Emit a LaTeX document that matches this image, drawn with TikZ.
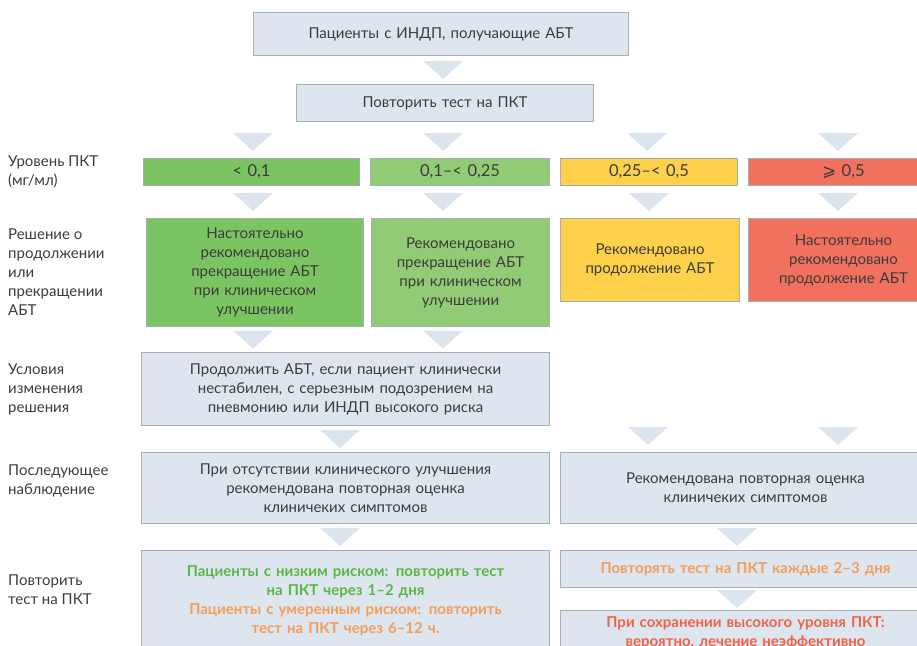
\documentclass[tikz,border=0pt]{standalone}
\usepackage{fontspec}
\setmainfont{Lato}
\newfontfamily\symfont{DejaVu Sans}
\usetikzlibrary{positioning, calc}
\definecolor{boxfill}{HTML}{DDE6EF}
\definecolor{boxline}{HTML}{A9AEB3}
\definecolor{trifill}{HTML}{DCE5EE}
\definecolor{txtgray}{HTML}{3C3C3C}
\definecolor{greenA}{HTML}{7BC462}
\definecolor{greenB}{HTML}{92CB76}
\definecolor{yellowC}{HTML}{FDD24A}
\definecolor{redD}{HTML}{F1705E}
\definecolor{textgreen}{HTML}{5CB646}
\definecolor{textorange}{HTML}{F49C58}
\definecolor{textred}{HTML}{EF6347}
\tikzset{
	box/.style = {draw = boxline, line width = 1pt, fill = boxfill, text = txtgray, align = center, inner sep = 0pt, anchor = north west, font = \fontsize{15}{19}\selectfont},
	lvbox/.style = {box, font = \fontsize{16.5}{20}\selectfont},
	sidelabel/.style = {anchor = west, align = left, inner sep = 0pt, text = txtgray, font = \fontsize{15}{19}\selectfont}
}
% pale triangle between two boxes, at column x
\newcommand{\flowtri}[3]{%
	\fill[trifill] let \p1 = (#1.south), \p2 = (#2.north), \n1 = {min(\y1-\y2,32pt)} in
		({#3pt-20pt},{\y2+\n1*0.5pt+9pt}) -- ({#3pt+20pt},{\y2+\n1*0.5pt+9pt}) -- ({#3pt},{\y2+\n1*0.5pt-9pt}) -- cycle;}

\begin{document}
\begin{tikzpicture}[x = 1pt, y = -1pt]
		\useasboundingbox (0,0) rectangle (917,645);
		\clip (0,0) rectangle (917,645);
		% top
		\node[box, text width = 375pt, minimum height = 43pt] (start) at (253,12) {Пациенты с ИНДП, получающие АБТ};
		\node[box, text width = 297pt, minimum height = 37pt] (pkt) at (296,84) {Повторить тест на ПКТ};
		% PCT levels
		\node[lvbox, fill = greenA, text width = 216pt, minimum height = 27pt] (lvA) at (143,158) {< 0,1};
		\node[lvbox, fill = greenB, text width = 179pt, minimum height = 27pt] (lvB) at (370,158) {0,1–< 0,25};
		\node[lvbox, fill = yellowC, text width = 177pt, minimum height = 27pt] (lvC) at (560,158) {0,25–< 0,5};
		\node[lvbox, fill = redD, text width = 190pt, minimum height = 27pt] (lvD) at (748,158) {{\symfont ⩾} 0,5};
		% decisions
		\node[box, fill = greenA, text width = 217pt, minimum height = 108pt] (decA) at (146,218) {Настоятельно\\рекомендовано\\прекращение АБТ\\при клиническом\\улучшении};
		\node[box, fill = greenB, text width = 178pt, minimum height = 108pt] (decB) at (371,218) {Рекомендовано\\прекращение АБТ\\при клиническом\\улучшении\\[19pt]};
		\node[box, fill = yellowC, text width = 179pt, minimum height = 83pt] (decC) at (560,218) {Рекомендовано\\продолжение АБТ};
		\node[box, fill = redD, text width = 190pt, minimum height = 83pt] (decD) at (748,218) {Настоятельно\\рекомендовано\\продолжение АБТ};
		% conditions and follow-up
		\node[box, text width = 408pt, minimum height = 73pt] (cond) at (141,352) {Продолжить АБТ, если пациент клинически\\нестабилен, с серьезным подозрением на\\пневмонию или ИНДП высокого риска};
		\node[box, text width = 408pt, minimum height = 71pt] (followL) at (141,452) {При отсутствии клинического улучшения\\рекомендована повторная оценка\\клиничеких симптомов};
		\node[box, text width = 370pt, minimum height = 71pt] (followR) at (560,452) {Рекомендована повторная оценка\\клиничеких симптомов};
		% repeat test
		\node[box, text width = 408pt, minimum height = 100pt, font = \fontsize{15}{19}\bfseries] (repL) at (141,550) {\textcolor{textgreen}{Пациенты с низким риском: повторить тест}\\\textcolor{textgreen}{на ПКТ через 1–2 дня}\\\textcolor{textorange}{Пациенты с умеренным риском: повторить}\\\textcolor{textorange}{тест на ПКТ через 6–12 ч.}};
		\node[box, text width = 370pt, minimum height = 37pt, font = \fontsize{15}{19}\bfseries] (repR) at (560,550) {\textcolor{textorange}{Повторять тест на ПКТ каждые 2–3 дня}};
		\node[box, text width = 370pt, minimum height = 44pt, font = \fontsize{15}{19}\bfseries] (highR) at (560,610) {\textcolor{textred}{При сохранении высокого уровня ПКТ:}\\\textcolor{textred}{вероятно, лечение неэффективно}};
		% row labels
		\node[sidelabel] (labLevel) at (8,172) {Уровень ПКТ\\(мг/мл)};
		\node[sidelabel] (labDec) at (8,272) {Решение о\\продолжении\\или\\прекращении\\АБТ};
		\node[sidelabel] (labCond) at (8,389) {Условия\\изменения\\решения};
		\node[sidelabel] (labFollow) at (8,481) {Последующее\\наблюдение};
		\node[sidelabel] (labRep) at (8,590) {Повторить\\тест на ПКТ};
		% triangles
		\flowtri{start}{pkt}{443}
		\flowtri{pkt}{lvA}{253}
		\flowtri{pkt}{lvB}{443}
		\flowtri{pkt}{lvC}{647}
		\flowtri{pkt}{lvD}{838}
		\flowtri{lvA}{decA}{253}
		\flowtri{lvB}{decB}{443}
		\flowtri{lvC}{decC}{649}
		\flowtri{lvD}{decD}{838}
		\flowtri{decA}{cond}{253}
		\flowtri{decB}{cond}{443}
		\flowtri{cond}{followL}{340}
		\flowtri{decC}{followR}{648}
		\flowtri{decD}{followR}{838}
		\flowtri{followL}{repL}{340}
		\flowtri{followR}{repR}{737}
		\flowtri{repR}{highR}{737}
	\end{tikzpicture}
\end{document}
